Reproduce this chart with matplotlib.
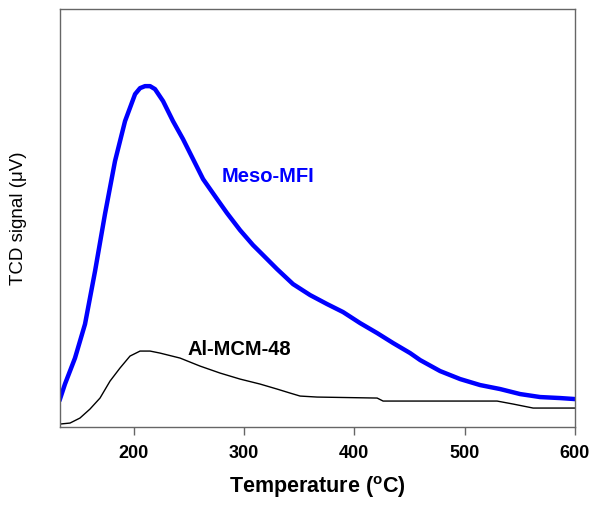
import numpy as np
import matplotlib.pyplot as plt

plt.rcParams['font.family'] = ['Liberation Sans', 'DejaVu Sans']

# Meso-MFI (blue), TCD signal in arbitrary units
meso_t = [133.0, 137.5, 146.6, 155.7, 164.8, 173.8, 182.9, 192.0, 201.1, 205.6,
          210.1, 214.7, 219.2, 226.5, 235.5, 244.6, 253.7, 262.8, 275.5, 284.5,
          296.3, 308.1, 314.5, 329.9, 344.4, 359.9, 375.3, 389.8, 405.2, 420.7,
          435.2, 450.6, 459.7, 477.8, 496.0, 514.1, 532.3, 550.4, 568.6, 586.7,
          600.0]
meso_s = [28, 43, 69, 103, 156, 213, 266, 306, 333, 339,
          341, 341, 338, 326, 306, 288, 268, 248, 228, 214,
          197, 182, 175, 158, 143, 132, 123, 115, 104, 94,
          84, 74, 67, 56, 48, 42, 38, 33, 30, 29,
          28]

# Al-MCM-48 (black)
al_t = [133.0, 142.1, 151.1, 160.2, 169.3, 178.4, 187.4, 196.5, 205.6, 214.7,
        223.7, 241.9, 260.0, 278.2, 296.3, 314.5, 329.9, 341.7, 350.8, 366.2,
        420.7, 426.1, 487.0, 529.5, 544.1, 562.2, 600.0]
al_s = [3, 4, 9, 18, 29, 46, 59, 71, 76, 76,
        74, 69, 61, 54, 48, 43, 38, 34, 31, 30,
        29, 26, 26, 26, 23, 19, 19]

fig = plt.figure(figsize=(6, 5.09), dpi=100)
ax = fig.add_axes([0.1, 0.161, 0.858, 0.821])

ax.plot(meso_t, meso_s, color='#0000ff', lw=3.2)
ax.plot(al_t, al_s, color='black', lw=1.0)

ax.text(280, 251, 'Meso-MFI', color='#0000ff', fontsize=14.5, fontweight='bold',
        va='center', ha='left')
ax.text(249, 78, 'Al-MCM-48', color='black', fontsize=14.5, fontweight='bold',
        va='center', ha='left')

ax.set_xlim(133, 600)
ax.set_ylim(0, 418)
ax.set_xticks([200, 300, 400, 500, 600])
ax.set_yticks([])
ax.tick_params(axis='x', direction='out', length=6, width=1, color='#666666',
               labelsize=13, pad=7)
for lab in ax.get_xticklabels():
    lab.set_fontweight('bold')
for sp in ax.spines.values():
    sp.set_color('#666666')
    sp.set_linewidth(1)

ax.set_xlabel(r'Temperature ($\mathregular{^o}$C)', fontsize=15.5,
              fontweight='bold', labelpad=9)
ax.set_ylabel('TCD signal (\u03bcV)', fontsize=13.5, labelpad=24)

fig.savefig('out.png', dpi=100)
